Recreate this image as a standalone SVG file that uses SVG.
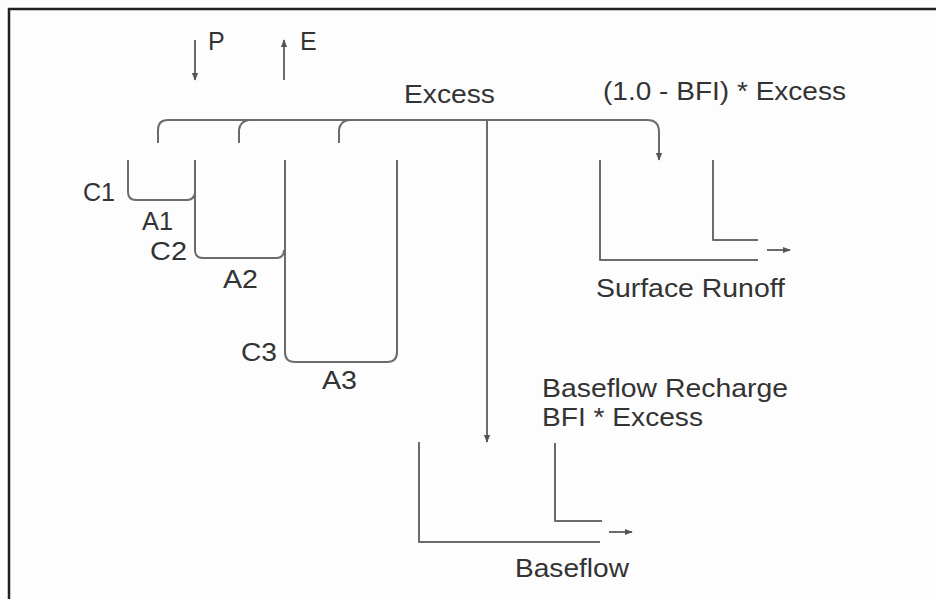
<svg xmlns="http://www.w3.org/2000/svg" width="936" height="599" viewBox="0 0 936 599">
<style>
.ln{fill:none;stroke:#6b6b6b;stroke-width:2;stroke-linecap:butt;stroke-linejoin:round}
.tx{font-family:"Liberation Sans",Arial,sans-serif;font-size:25px;fill:#333}
</style>
<defs>
<marker id="ah" viewBox="0 0 10 10" refX="9" refY="5" markerWidth="8" markerHeight="8" markerUnits="userSpaceOnUse" orient="auto">
<path d="M0,1 L10,5 L0,9 Z" fill="#555"/>
</marker>
</defs>
<rect width="936" height="599" fill="#fdfdfd"/>
<path d="M9,599 V9 H936" fill="none" stroke="#222" stroke-width="2.5"/>
<g id="inputs">
<text class="tx" x="208" y="50">P</text>
<text class="tx" x="300" y="50">E</text>
</g>
<g id="tank1">
<path class="ln" d="M128,160 V192 Q128,200 136,200 H187 Q194,200 195,193"/>
<text class="tx" x="83" y="201" textLength="32" lengthAdjust="spacingAndGlyphs">C1</text>
<text class="tx" x="142" y="230" textLength="31" lengthAdjust="spacingAndGlyphs">A1</text>
</g>
<g id="tank2">
<path class="ln" d="M195,160 V250 Q195,258 203,258 H276 Q284,258 284,250"/>
<text class="tx" x="150" y="260" textLength="37" lengthAdjust="spacingAndGlyphs">C2</text>
<text class="tx" x="223" y="288" textLength="35" lengthAdjust="spacingAndGlyphs">A2</text>
</g>
<g id="tank3">
<path class="ln" d="M285,160 V352 Q285,362 295,362 H387 Q397,362 397,352 V160"/>
<text class="tx" x="241" y="361" textLength="36" lengthAdjust="spacingAndGlyphs">C3</text>
<text class="tx" x="322" y="389" textLength="35" lengthAdjust="spacingAndGlyphs">A3</text>
</g>
<g id="surface-runoff">
<path class="ln" d="M600,160 V260 H758"/>
<path class="ln" d="M713,160 V240 H758"/>
<text class="tx" x="596" y="297" textLength="189" lengthAdjust="spacingAndGlyphs">Surface Runoff</text>
</g>
<g id="baseflow">
<path class="ln" d="M419,442 V542 H600"/>
<path class="ln" d="M555,443 V521 H602"/>
<text class="tx" x="515" y="577" textLength="114" lengthAdjust="spacingAndGlyphs">Baseflow</text>
</g>
<g id="connectors">
<line class="ln" x1="195" y1="40" x2="195" y2="80" marker-end="url(#ah)" stroke-width="1.5"/>
<line class="ln" x1="284" y1="80" x2="284" y2="40" marker-end="url(#ah)" stroke-width="1.5"/>
<path class="ln" d="M158,143 V130 Q158,120 168,120 H647 Q659,120 659,132 V160" marker-end="url(#ah)"/>
<path class="ln" d="M239,143 V130 Q240,121 249,120"/>
<path class="ln" d="M339,143 V130 Q340,121 349,120"/>
<line class="ln" x1="487" y1="120" x2="487" y2="442" marker-end="url(#ah)"/>
<line class="ln" x1="767" y1="250" x2="790" y2="250" marker-end="url(#ah)" stroke-width="1.2"/>
<line class="ln" x1="609" y1="532" x2="632" y2="532" marker-end="url(#ah)" stroke-width="1.2"/>
</g>
<g id="labels">
<text class="tx" x="404" y="103" textLength="91" lengthAdjust="spacingAndGlyphs">Excess</text>
<text class="tx" x="603" y="100" textLength="243" lengthAdjust="spacingAndGlyphs">(1.0 - BFI) * Excess</text>
<text class="tx" x="542" y="397" textLength="246" lengthAdjust="spacingAndGlyphs">Baseflow Recharge</text>
<text class="tx" x="542" y="426" textLength="161" lengthAdjust="spacingAndGlyphs">BFI * Excess</text>
</g>
</svg>
